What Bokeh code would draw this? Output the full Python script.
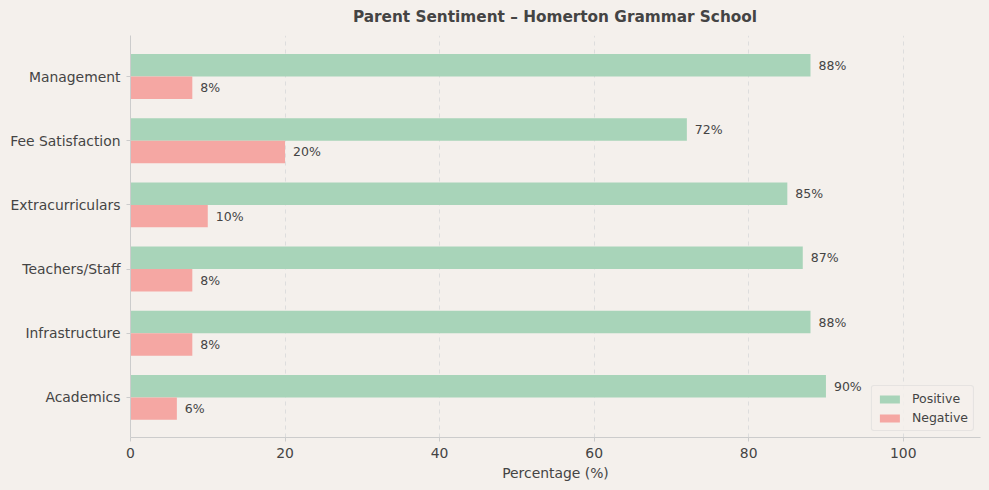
from bokeh.plotting import figure
from bokeh.models import Range1d, FixedTicker, ColumnDataSource, Legend, LegendItem, LabelSet, Div
from bokeh.layouts import column
from bokeh.core.properties import value
from bokeh.embed import file_html
from bokeh.resources import INLINE

categories = ["Academics", "Infrastructure", "Teachers/Staff", "Extracurriculars", "Fee Satisfaction", "Management"]
positive = [90, 88, 87, 85, 72, 88]
negative = [6, 8, 8, 10, 20, 8]
x_ticks = [0, 20, 40, 60, 80, 100]
title_text = "Parent Sentiment \u2013 Homerton Grammar School"

BG = "#f4f0ec"
GREEN = "#a8d4b9"
PINK = "#f5a7a3"
TXT = "#444444"
FONT = "DejaVu Sans"
BAR_H = 0.35

W, H = 989, 490
TITLE_H = 34
BL, BR, BT, BB = 130, 9, 1, 53

ypos = list(range(len(categories)))
src_pos = ColumnDataSource(dict(y=[v + BAR_H / 2 for v in ypos], x=positive,
                                lab=[f"{v}%" for v in positive]))
src_neg = ColumnDataSource(dict(y=[v - BAR_H / 2 for v in ypos], x=negative,
                                lab=[f"{v}%" for v in negative]))

p = figure(width=W, height=H - TITLE_H, output_backend="svg", toolbar_location=None,
           x_range=Range1d(0, 110), y_range=Range1d(-0.625, 5.64),
           min_border_left=BL, min_border_right=BR, min_border_top=BT, min_border_bottom=BB)
p.background_fill_color = BG
p.border_fill_color = BG
p.outline_line_color = None

r_pos = p.hbar(y="y", right="x", left=0, height=BAR_H, source=src_pos, fill_color=GREEN, line_color=None)
r_neg = p.hbar(y="y", right="x", left=0, height=BAR_H, source=src_neg, fill_color=PINK, line_color=None)

for src in (src_pos, src_neg):
    p.add_layout(LabelSet(x="x", y="y", text="lab", source=src, x_offset=8, y_offset=0,
                          text_baseline="middle", text_font=value(FONT),
                          text_font_size=value("12.5px"), text_color=TXT))

title = Div(text=title_text, width=W - BL - BR, height=TITLE_H, margin=(0, BR, 0, BL),
            styles={"font-family": FONT, "font-size": "15.3px", "font-weight": "bold",
                    "color": TXT, "text-align": "center", "line-height": f"{TITLE_H}px",
                    "white-space": "nowrap"})

# axes
p.xaxis.ticker = FixedTicker(ticks=x_ticks)
p.yaxis.ticker = FixedTicker(ticks=ypos)
p.yaxis.major_label_overrides = {i: c for i, c in enumerate(categories)}
for ax in (p.xaxis[0], p.yaxis[0]):
    ax.axis_line_color = "#cccccc"
    ax.major_tick_line_color = "#cccccc"
    ax.major_tick_out = 4
    ax.major_tick_in = 0
    ax.minor_tick_line_color = None
    ax.major_label_text_font = FONT
    ax.major_label_text_font_size = "13.9px"
    ax.major_label_text_color = TXT
    ax.axis_label_text_font = FONT
    ax.axis_label_text_font_size = "13.9px"
    ax.axis_label_text_color = TXT
    ax.axis_label_text_font_style = "normal"
p.xaxis.axis_label = "Percentage (%)"
p.xaxis.axis_label_standoff = 4
p.xaxis.major_label_standoff = 6
p.yaxis.major_label_standoff = 6

p.ygrid.grid_line_color = None
p.xgrid.grid_line_color = "#dddddd"
p.xgrid.grid_line_dash = "4 4"

legend = Legend(items=[LegendItem(label="Positive", renderers=[r_pos]),
                       LegendItem(label="Negative", renderers=[r_neg])],
                location="bottom_right")
legend.label_text_font = FONT
legend.label_text_font_size = "12.5px"
legend.label_text_color = TXT
legend.background_fill_color = BG
legend.background_fill_alpha = 0.85
legend.border_line_color = "#d6d6d6"
legend.border_line_width = 1
legend.border_radius = 3
legend.glyph_width = 25
legend.glyph_height = 10
legend.label_standoff = 10
legend.label_height = 14
legend.spacing = 4
legend.padding = 5
legend.margin = 6
p.add_layout(legend)

layout = column(title, p, spacing=0, styles={"background-color": BG})

html = file_html(layout, INLINE)
html = html.replace("<body>", f'<body style="background:{BG};">', 1)
open("out.html", "w").write(html)
